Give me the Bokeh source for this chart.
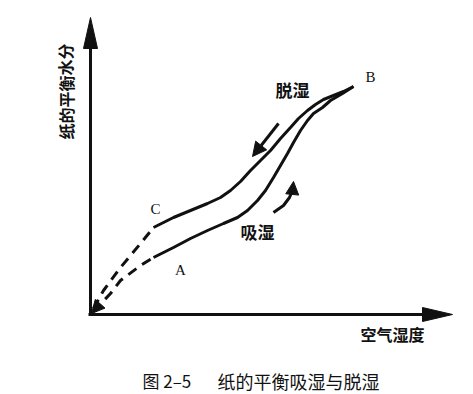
from bokeh.plotting import figure
from bokeh.models import Range1d, Arrow, NormalHead
from bokeh.core.properties import value
from bokeh.embed import file_html
from bokeh.resources import INLINE

# ---- schematic data (x: air humidity, y: equilibrium moisture of paper) ----
desorb_x = [63, 73, 83, 100, 117, 130, 140, 150, 160, 170, 180, 190, 200, 208, 217, 225, 233, 243, 253, 263]
desorb_y = [87, 92, 97, 104, 111, 117, 124, 133, 144, 154, 164, 176, 187, 196, 204, 210, 215, 219, 223, 228]
absorb_x = [63, 73, 83, 100, 117, 133, 147, 157, 167, 175, 183, 190, 197, 203, 210, 217, 223, 232, 240, 252, 263]
absorb_y = [57, 62, 67, 76, 84, 91, 97, 104, 114, 124, 137, 149, 161, 172, 184, 194, 201, 207, 214, 221, 228]
desorb_dash_x = [3, 13, 30, 50, 63]
desorb_dash_y = [6, 24, 47, 71, 87]
absorb_dash_x = [3, 20, 30, 50, 63]
absorb_dash_y = [3, 21, 34, 49, 57]

x_axis_end = 362
y_axis_end = 297

labels_pt = {"B": (280, 238), "C": (65, 106), "A": (90, 45)}
y_title = "纸的平衡水分"
x_title = "空气湿度"
desorb_label = "脱湿"
absorb_label = "吸湿"
fig_no = "图 2–5"
caption = "纸的平衡吸湿与脱湿"

INK = "#111111"
CJK = value("Noto Sans CJK SC")

p = figure(width=473, height=394, x_range=Range1d(-90, 383), y_range=Range1d(-80, 314),
           output_backend="svg", toolbar_location=None, min_border=0)
p.axis.visible = False
p.grid.visible = False
p.outline_line_color = None
p.background_fill_color = "white"
p.border_fill_color = "white"

# axes with arrowheads
p.line([0, 0], [0, y_axis_end - 25], line_color=INK, line_width=3)
p.line([-2, x_axis_end - 25], [0, 0], line_color=INK, line_width=3)
p.patch([0, -7, 7], [y_axis_end, y_axis_end - 31, y_axis_end - 31], color=INK)
p.patch([x_axis_end, x_axis_end - 30, x_axis_end - 30], [0, 7, -7], color=INK)

# curves
p.line(desorb_x, desorb_y, line_color=INK, line_width=3)
p.line(absorb_x, absorb_y, line_color=INK, line_width=3)
p.line(desorb_dash_x, desorb_dash_y, line_color=INK, line_width=3, line_dash="10 7")
p.line(absorb_dash_x, absorb_dash_y, line_color=INK, line_width=3, line_dash="10 7")

# arrowhead at origin
p.add_layout(Arrow(end=NormalHead(size=13, fill_color=INK, line_color=INK),
                   x_start=9, y_start=10, x_end=1, y_end=1, line_color=INK, line_width=3))

# direction arrows
p.add_layout(Arrow(end=NormalHead(size=14, fill_color=INK, line_color=INK),
                   x_start=188, y_start=191, x_end=162, y_end=158, line_color=INK, line_width=3))
p.line([183, 193, 199, 202], [102, 109, 117, 124], line_color=INK, line_width=3)
p.add_layout(Arrow(end=NormalHead(size=13, fill_color=INK, line_color=INK),
                   x_start=202, y_start=123, x_end=203, y_end=133, line_color=INK, line_width=3))

# texts
p.text(x=[-25], y=[223], text=[y_title], angle=1.5708, text_font=CJK, text_font_style="bold",
       text_font_size="16px", text_align="center", text_baseline="middle", text_color=INK)
p.text(x=[302], y=[-19], text=[x_title], text_font=CJK, text_font_style="bold",
       text_font_size="16px", text_align="center", text_baseline="middle", text_color=INK)
p.text(x=[202], y=[225], text=[desorb_label], text_font=CJK, text_font_style="bold",
       text_font_size="17px", text_align="center", text_baseline="middle", text_color=INK)
p.text(x=[167], y=[83], text=[absorb_label], text_font=CJK, text_font_style="bold",
       text_font_size="17px", text_align="center", text_baseline="middle", text_color=INK)
names = list(labels_pt.keys())
p.text(x=[labels_pt[k][0] for k in names], y=[labels_pt[k][1] for k in names], text=names,
       text_font=value("Liberation Serif"), text_font_size="15px",
       text_align="center", text_baseline="middle", text_color=INK)
p.text(x=[52], y=[-66], text=[fig_no], text_font=CJK, text_font_size="17px",
       text_align="left", text_baseline="middle", text_color=INK)
p.text(x=[127], y=[-66], text=[caption], text_font=CJK, text_font_size="18px",
       text_align="left", text_baseline="middle", text_color=INK)

open("out.html", "w").write(file_html(p, INLINE))
